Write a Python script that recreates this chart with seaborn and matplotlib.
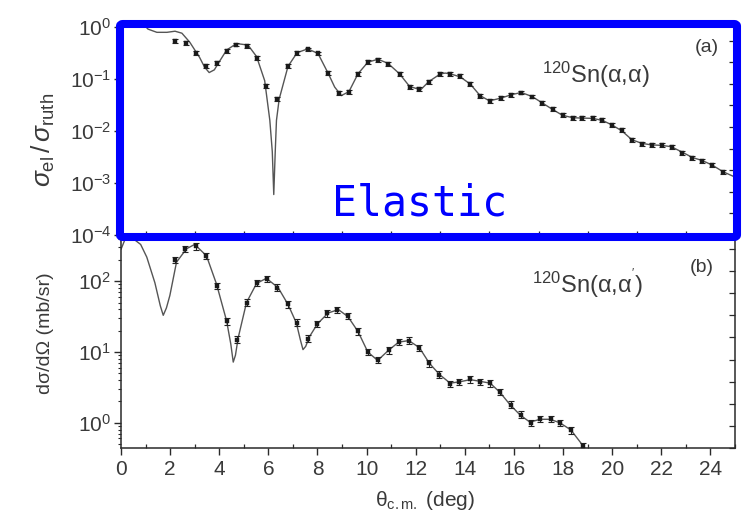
import numpy as np
import pandas as pd
import matplotlib
matplotlib.use("Agg")
import matplotlib.pyplot as plt
import seaborn as sns
from matplotlib.patches import FancyBboxPatch
from matplotlib.ticker import LogLocator, MultipleLocator, NullFormatter

# ---------------- data ----------------
# (a) elastic scattering, ratio to Rutherford
el_theta = [2.20, 2.64, 3.06, 3.46, 3.89, 4.30, 4.70, 5.11, 5.52, 5.92, 6.36,
            6.80, 7.17, 7.61, 8.02, 8.43, 8.87, 9.28, 9.65, 10.05, 10.46, 10.87,
            11.34, 11.75, 12.15, 12.53, 13.00, 13.40, 13.81, 14.22, 14.62, 15.03,
            15.48, 15.88, 16.29, 16.74, 17.14, 17.57, 17.98, 18.39, 18.79, 19.20,
            19.58, 19.99, 20.39, 20.80, 21.21, 21.61, 22.02, 22.43, 22.86, 23.26,
            23.67, 24.08, 24.51]
el_ratio = [0.54, 0.50, 0.32, 0.177, 0.20, 0.34, 0.46, 0.43, 0.25, 0.072, 0.042,
            0.175, 0.32, 0.37, 0.31, 0.13, 0.053, 0.057, 0.126, 0.21, 0.235, 0.197,
            0.126, 0.071, 0.064, 0.089, 0.126, 0.126, 0.112, 0.081, 0.048, 0.038,
            0.043, 0.050, 0.055, 0.046, 0.035, 0.026, 0.020, 0.0177, 0.0177, 0.0177,
            0.0161, 0.0131, 0.0103, 0.0066, 0.0057, 0.0053, 0.0053, 0.0050, 0.0038,
            0.0030, 0.0027, 0.0022, 0.0016]

el_fit_theta = [0.90, 1.10, 1.46, 1.87, 2.20, 2.48, 2.80, 3.20, 3.40, 3.59, 3.80,
                3.96, 4.30, 4.70, 5.17, 5.52, 5.85, 6.06, 6.16, 6.22, 6.28, 6.33,
                6.44, 6.80, 7.17, 7.60, 8.02, 8.43, 8.70, 8.97, 9.28, 9.65, 10.05,
                10.46, 10.87, 11.34, 11.75, 12.20, 12.53, 13.00, 13.20, 13.40, 13.81,
                14.22, 14.62, 15.00, 15.48, 15.90, 16.30, 16.74, 17.14, 17.57, 17.98,
                18.40, 18.80, 19.20, 19.60, 20.00, 20.40, 20.80, 21.20, 21.60, 22.00,
                22.40, 22.86, 23.26, 23.67, 24.08, 24.51, 25.00]
el_fit = [1.15, 0.91, 0.79, 0.79, 0.83, 0.76, 0.51, 0.26, 0.17, 0.133, 0.15,
          0.20, 0.36, 0.48, 0.45, 0.27, 0.093, 0.016, 0.004, 0.0006, 0.004, 0.016,
          0.041, 0.175, 0.32, 0.38, 0.31, 0.13, 0.07, 0.048, 0.057, 0.126, 0.21,
          0.24, 0.20, 0.126, 0.072, 0.062, 0.089, 0.125, 0.13, 0.126, 0.11,
          0.080, 0.048, 0.038, 0.043, 0.050, 0.055, 0.046, 0.035, 0.026, 0.020,
          0.018, 0.0177, 0.0175, 0.016, 0.013, 0.010, 0.0068, 0.0058, 0.0054, 0.0053,
          0.0050, 0.0039, 0.0031, 0.0027, 0.0022, 0.00165, 0.0013]

# (b) inelastic scattering, cross section in mb/sr
in_theta = [2.20, 2.60, 3.04, 3.48, 3.89, 4.30, 4.74, 5.14, 5.55, 5.95, 6.37,
            6.78, 7.18, 7.60, 8.00, 8.40, 8.81, 9.24, 9.65, 10.05, 10.48, 10.93,
            11.33, 11.74, 12.15, 12.56, 12.96, 13.38, 13.78, 14.19, 14.60, 15.03,
            15.45, 15.86, 16.27, 16.68, 17.08, 17.49, 17.89, 18.32, 18.81]
in_xs = [200, 283, 310, 229, 85, 27, 15, 50, 94, 108, 81,
         47, 26, 15.5, 25, 35, 39.5, 32, 19.5, 10, 7.7, 10.5,
         13.8, 14.5, 11.3, 6.9, 4.8, 3.5, 3.75, 4.1, 3.8, 3.6,
         2.7, 1.8, 1.3, 1.0, 1.14, 1.12, 1.0, 0.78, 0.465]

in_fit_theta = [0.00, 0.15, 0.50, 0.80, 1.05, 1.38, 1.60, 1.72, 1.85, 1.99, 2.26,
                2.67, 3.00, 3.48, 3.89, 4.30, 4.47, 4.57, 4.66, 4.77, 5.11, 5.52,
                5.92, 6.40, 6.80, 7.14, 7.30, 7.41, 7.52, 7.68, 8.00, 8.43, 8.85,
                9.24, 9.65, 10.05, 10.45, 10.91, 11.31, 11.72, 12.15, 12.56, 12.97,
                13.40, 13.81, 14.22, 14.62, 15.03, 15.43, 15.84, 16.25, 16.65, 17.06,
                17.47, 17.87, 18.32, 18.82, 19.30]
in_fit = [282, 380, 398, 331, 219, 95, 45, 33, 42, 63, 186,
          288, 331, 229, 91, 27.5, 13, 7.2, 9, 15.8, 50, 93,
          110, 81, 47, 25.7, 15, 10.8, 12, 16.6, 25, 35.5, 39.8,
          31.6, 19.5, 10, 7.6, 10.7, 13.8, 14.5, 11.5, 6.9, 4.8,
          3.63, 3.8, 4.07, 3.85, 3.63, 2.69, 1.8, 1.29, 1.02, 1.12,
          1.12, 1.0, 0.79, 0.47, 0.28]

x_ticks = [0, 2, 4, 6, 8, 10, 12, 14, 16, 18, 20, 22, 24]

# ---------------- style ----------------
sns.set_style("ticks")
plt.rcParams["font.family"] = ["Liberation Sans", "DejaVu Sans"]
plt.rcParams["mathtext.fontset"] = "custom"
plt.rcParams["mathtext.rm"] = "Liberation Sans"
plt.rcParams["mathtext.it"] = "Liberation Sans:italic"
plt.rcParams["mathtext.sf"] = "Liberation Sans"

TXT = "#3a3a3a"
AX = "#2a2a2a"
LINE = "#555555"

fig = plt.figure(figsize=(7.42, 5.27), dpi=100)
W, H = 742.0, 527.0
x0, x1 = 121 / W, 735 / W
y_top, y_mid, y_bot = 1 - 27 / H, 1 - 235 / H, 1 - 448 / H
ax_a = fig.add_axes([x0, y_mid, x1 - x0, y_top - y_mid])
ax_b = fig.add_axes([x0, y_bot, x1 - x0, y_mid - y_bot], sharex=ax_a)

df_el = pd.DataFrame({"theta": el_theta, "val": el_ratio})
df_el_fit = pd.DataFrame({"theta": el_fit_theta, "val": el_fit})
df_in = pd.DataFrame({"theta": in_theta, "val": in_xs})
df_in_fit = pd.DataFrame({"theta": in_fit_theta, "val": in_fit})

for ax, pts, fit, rel in [(ax_a, df_el, df_el_fit, 0.09), (ax_b, df_in, df_in_fit, 0.11)]:
    sns.lineplot(data=fit, x="theta", y="val", ax=ax, color=LINE, lw=1.0,
                 sort=False, estimator=None, zorder=2)
    ax.errorbar(pts["theta"], pts["val"],
                yerr=[pts["val"] * rel / (1 + rel), pts["val"] * rel],
                fmt="none", ecolor="#222222", elinewidth=0.8, capsize=2.0,
                capthick=0.8, zorder=3)
    sns.scatterplot(data=pts, x="theta", y="val", ax=ax, marker="s", s=8,
                    color="#1a1a1a", edgecolor="#1a1a1a", linewidth=0.3, zorder=4)
    ax.set_yscale("log")
    ax.set_xlabel("")
    ax.set_ylabel("")
    for s in ax.spines.values():
        s.set_color(AX)
        s.set_linewidth(1.1)
    ax.yaxis.set_major_locator(LogLocator(base=10))
    ax.yaxis.set_minor_locator(LogLocator(base=10, subs=np.arange(2, 10)))
    ax.yaxis.set_minor_formatter(NullFormatter())
    ax.tick_params(axis="y", which="major", direction="out", length=5, width=1.0,
                   colors=AX, labelcolor=TXT, labelsize=15, pad=2)
    ax.tick_params(axis="y", which="minor", direction="out", length=2.5, width=0.8,
                   colors=AX)
    ax.tick_params(axis="x", which="major", direction="out", length=5, width=1.0,
                   colors=AX, labelcolor=TXT, labelsize=15)
    ax.tick_params(axis="x", which="minor", direction="in", length=3, width=0.9,
                   colors=AX)
    # evenly spaced inward ticks along the right frame
    tw = ax.twinx()
    tw.set_ylim(0, 9.63)
    tw.yaxis.set_major_locator(MultipleLocator(1))
    tw.set_yticklabels([])
    tw.tick_params(axis="y", direction="in", length=4, width=0.9, colors=AX)
    for s in tw.spines.values():
        s.set_visible(False)

ax_a.set_xlim(0, 25)
ax_a.set_xticks(x_ticks)
ax_a.xaxis.set_minor_locator(MultipleLocator(1))
ax_a.set_ylim(1e-4, 1e0)
ax_b.set_ylim(0.44, 450)
plt.setp(ax_a.get_xticklabels(), visible=False)

# axis titles
fig.text(43 / W, 1 - 140 / H, r"$\sigma_{\rm el}\,/\,\sigma_{\rm ruth}$",
         rotation=90, ha="center", va="center", fontsize=19, color=TXT)
fig.text(45 / W, 1 - 333 / H, "dσ/dΩ (mb/sr)", rotation=90,
         ha="center", va="center", fontsize=14, color=TXT)
fig.text(425 / W, 1 - 500 / H, r"θ$_{\rm c{.}m{.}}$ (deg)",
         ha="center", va="center", fontsize=15, color=TXT)

# panel annotations
fig.text(707 / W, 1 - 47 / H, "(a)", ha="center", va="center", fontsize=14, color=TXT)
fig.text(596 / W, 1 - 75 / H, r"$^{120}$Sn(α,α)", ha="center", va="center",
         fontsize=17, color=TXT)
fig.text(702 / W, 1 - 267 / H, "(b)", ha="center", va="center", fontsize=14, color=TXT)
fig.text(588 / W, 1 - 284 / H, r"$^{120}$Sn(α,α$^{'}$)", ha="center", va="center",
         fontsize=17, color=TXT)

# highlight frame around the elastic panel
frame = FancyBboxPatch((120 / W, 1 - 237 / H), (737 - 120) / W, (237 - 24) / H,
                       boxstyle="round,pad=0,rounding_size=0.004",
                       transform=fig.transFigure, fill=False,
                       edgecolor="#0000ff", linewidth=5.8, joinstyle="round",
                       zorder=10)
fig.patches.append(frame)
fig.text(420 / W, 1 - 215 / H, "Elastic", ha="center", va="baseline",
         fontsize=30, color="#0000ff", family="DejaVu Sans Mono", zorder=11)

fig.savefig("out.png", dpi=100)
